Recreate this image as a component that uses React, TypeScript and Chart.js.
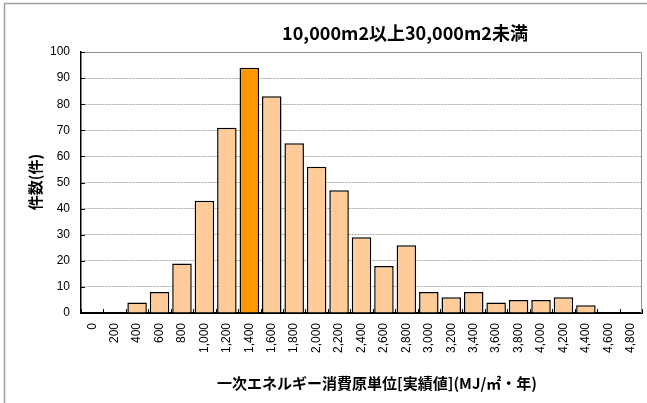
import React, { useEffect, useRef } from 'react';
import { Chart, registerables } from 'chart.js';

Chart.register(...registerables);

const categories = ['0', '200', '400', '600', '800', '1,000', '1,200', '1,400', '1,600', '1,800', '2,000', '2,200', '2,400', '2,600', '2,800', '3,000', '3,200', '3,400', '3,600', '3,800', '4,000', '4,200', '4,400', '4,600', '4,800'];
const counts = [0, 0, 4, 8, 19, 43, 71, 94, 83, 65, 56, 47, 29, 18, 26, 8, 6, 8, 4, 5, 5, 6, 3, 0, 0];
const highlightCategory = '1,400';
const yMin = 0;
const yMax = 100;
const yStep = 10;
const chartTitle = '10,000m2以上30,000m2未満';
const xAxisTitle = '一次エネルギー消費原単位[実績値](MJ/㎡・年)';
const yAxisTitle = '件数(件)';

const W = 647;
const H = 403;

const decorPlugin = {
  id: 'decor',
  beforeDatasetsDraw(chart: any) {
    const { ctx, chartArea } = chart;
    const { left, right, top, bottom } = chartArea;
    ctx.save();
    ctx.strokeStyle = '#909090';
    ctx.lineWidth = 1;
    ctx.beginPath();
    ctx.moveTo(left, top + 0.5);
    ctx.lineTo(right - 0.5, top + 0.5);
    ctx.lineTo(right - 0.5, bottom);
    ctx.stroke();
    ctx.strokeStyle = '#000';
    ctx.lineWidth = 1;
    const n = categories.length;
    const step = (right - left) / n;
    ctx.beginPath();
    for (let i = 0; i <= n; i++) {
      const x = Math.round(left + i * step) + 0.5;
      ctx.moveTo(x, bottom);
      ctx.lineTo(x, bottom - 4);
    }
    const ys = chart.scales.y;
    for (let v = yMin; v <= yMax; v += yStep) {
      const y = Math.round(ys.getPixelForValue(v)) + 0.5;
      ctx.moveTo(left, y);
      ctx.lineTo(left + 4, y);
    }
    ctx.stroke();
    ctx.restore();
  },
  afterDraw(chart: any) {
    const { ctx } = chart;
    ctx.save();
    ctx.strokeStyle = '#a0a0a0';
    ctx.lineWidth = 1.5;
    ctx.strokeRect(4.5, 3.5, W + 50, H + 50);
    ctx.fillStyle = '#000';
    ctx.textAlign = 'center';
    ctx.textBaseline = 'middle';
    ctx.font = 'bold 18px "Noto Sans CJK JP", sans-serif';
    ctx.fillText(chartTitle, 405, 33);
    ctx.font = 'bold 15px "Noto Sans CJK JP", sans-serif';
    ctx.fillText(xAxisTitle, 377, 383);
    ctx.translate(35, 182);
    ctx.rotate(-Math.PI / 2);
    ctx.font = 'bold 15px "Noto Sans CJK JP", sans-serif';
    ctx.fillText(yAxisTitle, 0, 0);
    ctx.restore();
  },
};

export default function App() {
  const canvasRef = useRef<HTMLCanvasElement | null>(null);

  useEffect(() => {
    if (!canvasRef.current) return;
    const chart = new Chart(canvasRef.current, {
      type: 'bar',
      data: {
        labels: categories,
        datasets: [
          {
            data: counts,
            backgroundColor: categories.map((c) => (c === highlightCategory ? '#FF9900' : '#FFCC99')),
            borderColor: '#000000',
            borderWidth: 1.5,
            barPercentage: 0.87,
            categoryPercentage: 1,
          },
        ],
      },
      options: {
        responsive: false,
        animation: false,
        devicePixelRatio: 1,
        layout: { padding: { top: 52, right: 5, left: 0, bottom: 0 } },
        plugins: {
          legend: { display: false },
          tooltip: { enabled: false },
          title: { display: false },
        },
        scales: {
          x: {
            grid: { display: false, drawTicks: false },
            border: { display: true, color: '#000', width: 2 },
            ticks: {
              minRotation: 90,
              maxRotation: 90,
              autoSkip: false,
              padding: 10,
              color: '#000',
              font: { family: '"Liberation Sans", Arial, sans-serif', size: 12 },
            },
            afterFit: (scale: any) => {
              scale.height = 90;
              scale.paddingLeft = 0;
              scale.paddingRight = 0;
            },
          },
          y: {
            min: yMin,
            max: yMax,
            ticks: {
              stepSize: yStep,
              padding: 11,
              color: '#000',
              font: { family: '"Liberation Sans", Arial, sans-serif', size: 12 },
            },
            grid: { color: '#a8a8a8', drawTicks: false, lineWidth: 1 },
            border: { display: true, color: '#000', width: 1.5, dash: [2, 1] },
            afterFit: (scale: any) => {
              scale.width = 81;
              scale.paddingTop = 0;
              scale.paddingBottom = 0;
            },
          },
        },
      },
      plugins: [decorPlugin],
    });
    return () => chart.destroy();
  }, []);

  return (
    <div style={{ position: 'absolute', left: 0, top: 0, width: W, height: H, background: '#fff' }}>
      <canvas ref={canvasRef} width={W} height={H} style={{ display: 'block' }} />
    </div>
  );
}
